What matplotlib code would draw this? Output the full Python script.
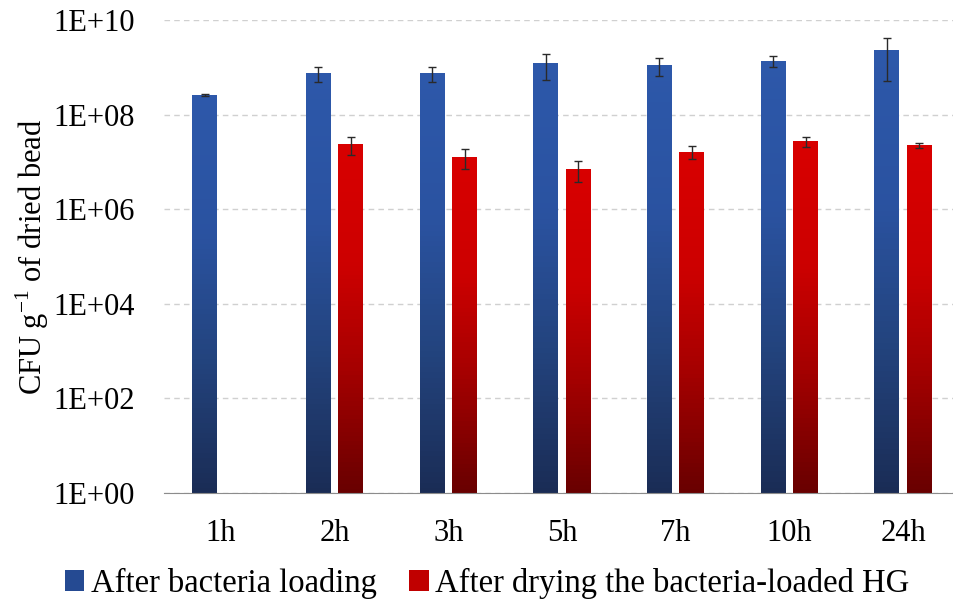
import numpy as np
import matplotlib.pyplot as plt
from matplotlib.colors import LinearSegmentedColormap
from matplotlib.patches import Patch

times = ['1h', '2h', '3h', '5h', '7h', '10h', '24h']
loaded = [2.6e8, 7.5e8, 7.5e8, 1.25e9, 1.12e9, 1.38e9, 2.32e9]
loaded_err = [0.1e8, 2.7e8, 2.7e8, 0.7e9, 0.45e9, 0.36e9, 1.8e9]
dried = [np.nan, 2.35e7, 1.3e7, 7.2e6, 1.64e7, 2.72e7, 2.24e7]
dried_err = [0, 0.95e7, 0.6e7, 0.35e7, 0.5e7, 0.7e7, 0.3e7]

plt.rcParams['font.family'] = ['Liberation Serif', 'DejaVu Serif']

fig = plt.figure(figsize=(9.54, 6.0), dpi=100)
ax = fig.add_axes([164 / 954, 107 / 600, 796 / 954, 473 / 600])

x = np.arange(len(times))
w = 0.22
off = 0.143

blue_cmap = LinearSegmentedColormap.from_list(
    'b', [(0, '#1a2c55'), (0.35, '#23447f'), (0.65, '#2a52a0'), (1, '#2d58aa')])
red_cmap = LinearSegmentedColormap.from_list(
    'r', [(0, '#680000'), (0.35, '#a40000'), (0.65, '#cc0000'), (1, '#d80000')])


def gradient_bars(xs, vals, cmap, n=80):
    # stack thin slices in log space so the shading runs evenly on screen
    for xc, v in zip(xs, vals):
        if np.isnan(v):
            continue
        edges = np.logspace(0, np.log10(v), n + 1)
        fracs = (np.arange(n) + 0.5) / n
        ax.bar([xc] * n, np.diff(edges), w, bottom=edges[:-1], color=cmap(fracs),
               linewidth=0, antialiased=False, zorder=2)


gradient_bars(x - off, loaded, blue_cmap)
gradient_bars(x + off, dried, red_cmap)

ax.errorbar(x - off, loaded, yerr=loaded_err, fmt='none', ecolor='#2a2a2a',
            elinewidth=1, capsize=3, capthick=1, zorder=3)
ax.errorbar(x + off, dried, yerr=dried_err, fmt='none', ecolor='#2a2a2a',
            elinewidth=1, capsize=3, capthick=1, zorder=3)

ax.set_yscale('log')
ax.set_ylim(1, 1e10)
ax.set_xlim(-0.5, 6.5)
ticks = [10.0 ** k for k in range(0, 11, 2)]
ax.set_yticks(ticks)
ax.set_yticklabels(['1E+%02d' % k for k in range(0, 11, 2)])
ax.minorticks_off()
ax.set_xticks(x)
ax.set_xticklabels(times)
ax.tick_params(axis='both', length=0, labelsize=22, colors='black')
ax.tick_params(axis='x', pad=19)
ax.tick_params(axis='y', pad=21)
ax.yaxis.grid(True, color='#d0d0d0', linestyle=(0, (4, 3)), linewidth=1)
ax.set_axisbelow(True)
for s in ['top', 'right', 'left']:
    ax.spines[s].set_visible(False)
ax.spines['bottom'].set_color('#8c8c8c')
ax.spines['bottom'].set_zorder(4)

ax.set_ylabel('CFU g$^{\\mathregular{-1}}$ of dried bead', fontsize=22, labelpad=2)

handles = [Patch(facecolor='#254a92'), Patch(facecolor='#c00000')]
fig.legend(handles, ['After bacteria loading', 'After drying the bacteria-loaded HG'],
           loc='center', bbox_to_anchor=(487 / 954, 0.028), ncol=2, frameon=False,
           fontsize=23.5, handlelength=0.6, handleheight=0.6, handletextpad=0.2,
           columnspacing=1.0, borderaxespad=0, borderpad=0)

fig.savefig('out.png', dpi=100)
